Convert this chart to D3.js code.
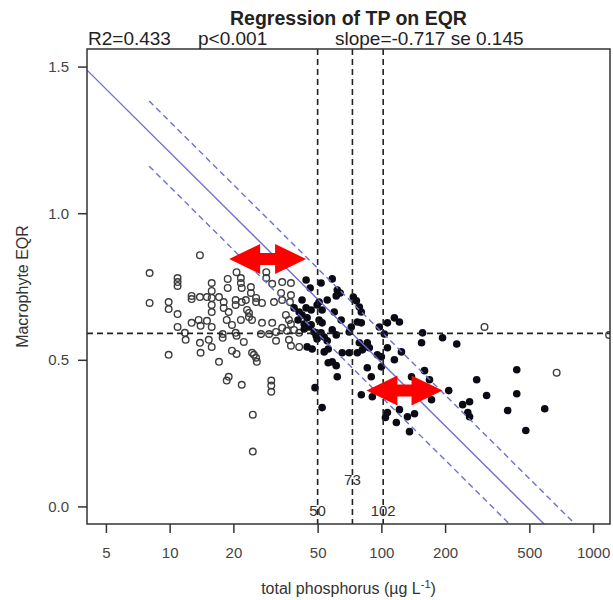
<!DOCTYPE html>
<html>
<head>
<meta charset="utf-8">
<script src="https://cdn.jsdelivr.net/npm/d3@7"></script>
<style>
  body { margin: 0; background: #fff; }
  svg { display: block; }
  text { font-family: "Liberation Sans", Arial, sans-serif; }
</style>
</head>
<body>
<svg id="chart" width="613" height="600"></svg>
<script>
// open circles (TP in ug/L, EQR)
const openTP = [
  13.9, 8.04, 10.9, 10.9, 10.9, 20.7, 18.8, 15.8, 8.04, 9.89,
  9.89, 10.9, 12.7, 12.7, 13.9, 15.0, 15.8, 15.8, 15.8, 15.8,
  17.1, 18.0, 18.0, 18.8, 19.0, 20.5, 12.7, 13.7, 14.0, 15.0,
  15.8, 10.9, 11.8, 11.9, 18.6, 19.7, 17.8, 17.8, 20.5, 13.9,
  15.3, 15.8, 9.89, 19.7, 21.7, 21.7, 21.9, 24.2, 24.2, 21.9,
  23.2, 25.6, 25.6, 27.3, 23.7, 27.3, 28.6, 28.6, 30.5, 34.0,
  37.4, 33.6, 34.0, 37.4, 31.1, 20.5, 22.9, 23.7, 21.7, 24.5,
  30.5, 35.4, 36.6, 37.4, 34.0, 35.8, 38.7, 40.9, 31.8, 29.5,
  20.7, 22.4, 27.0, 31.8, 36.6, 37.4, 40.9, 20.7, 24.5, 25.0,
  25.6, 25.8, 17.1, 19.0, 30.2, 30.2, 30.2, 18.6, 21.9, 24.7,
  24.7, 14.0, 37.0, 307, 673, 1190
];
const openEQR = [
  0.857, 0.796, 0.779, 0.765, 0.752, 0.799, 0.776, 0.762, 0.694, 0.697,
  0.673, 0.656, 0.718, 0.707, 0.714, 0.714, 0.735, 0.711, 0.687, 0.663,
  0.714, 0.697, 0.677, 0.745, 0.663, 0.704, 0.626, 0.636, 0.616, 0.633,
  0.612, 0.612, 0.592, 0.568, 0.636, 0.619, 0.588, 0.575, 0.592, 0.558,
  0.568, 0.544, 0.517, 0.531, 0.779, 0.762, 0.745, 0.748, 0.728, 0.697,
  0.670, 0.711, 0.697, 0.694, 0.646, 0.626, 0.799, 0.779, 0.759, 0.765,
  0.762, 0.728, 0.704, 0.721, 0.697, 0.687, 0.704, 0.660, 0.636, 0.636,
  0.626, 0.653, 0.636, 0.622, 0.609, 0.599, 0.602, 0.592, 0.595, 0.588,
  0.582, 0.561, 0.588, 0.565, 0.568, 0.548, 0.544, 0.520, 0.524, 0.517,
  0.507, 0.493, 0.493, 0.442, 0.429, 0.412, 0.391, 0.429, 0.415, 0.313,
  0.187, 0.524, 0.697, 0.612, 0.456, 0.585
];

// filled circles
const fillTP = [
  44.1, 46.1, 51.9, 58.6, 61.9, 63.9, 61.2, 42.2, 44.1, 50.8,
  55.5, 73.7, 76.2, 78.7, 80.4, 59.9, 64.6, 77.0, 80.4, 50.8,
  52.5, 42.2, 40.4, 43.2, 45.6, 48.1, 51.9, 53.7, 49.7, 55.5,
  58.6, 61.2, 70.5, 72.1, 106.8, 115.2, 121.7, 97.8, 103.3, 78.7,
  83.1, 85.8, 81.3, 87.7, 106.8, 95.7, 100, 124.4, 65.3, 70.5,
  77.0, 44.6, 47.1, 53.7, 56.1, 58.6, 61.2, 61.9, 85.8, 89.6,
  100, 115.2, 48.6, 80.4, 90.6, 52.5, 106.8, 104.5, 121.7, 132.8,
  117.7, 135.8, 143.4, 156.5, 154.8, 194.5, 227, 159.9, 168.8, 208,
  172.5, 282, 436, 314, 436, 242, 261, 256, 261, 395,
  591, 481, 138.8, 56.1, 49.7, 52.5, 46.6, 38.7, 40.9, 44.6,
  46.6, 43.2, 49.2
];
const fillEQR = [
  0.772, 0.745, 0.762, 0.776, 0.738, 0.728, 0.718, 0.704, 0.677, 0.697,
  0.704, 0.714, 0.701, 0.680, 0.663, 0.663, 0.636, 0.629, 0.626, 0.636,
  0.626, 0.653, 0.636, 0.622, 0.612, 0.595, 0.592, 0.578, 0.571, 0.565,
  0.602, 0.585, 0.595, 0.612, 0.626, 0.643, 0.629, 0.612, 0.588, 0.558,
  0.544, 0.558, 0.534, 0.541, 0.541, 0.517, 0.510, 0.527, 0.524, 0.524,
  0.524, 0.544, 0.537, 0.527, 0.537, 0.493, 0.480, 0.442, 0.473, 0.442,
  0.476, 0.500, 0.405, 0.381, 0.374, 0.337, 0.320, 0.303, 0.330, 0.306,
  0.286, 0.255, 0.316, 0.592, 0.558, 0.575, 0.554, 0.463, 0.432, 0.395,
  0.364, 0.432, 0.466, 0.378, 0.384, 0.347, 0.357, 0.320, 0.306, 0.327,
  0.333, 0.259, 0.442, 0.490, 0.687, 0.670, 0.670, 0.677, 0.663, 0.643,
  0.619, 0.605, 0.582
];

const xTicks = [5, 10, 20, 50, 100, 200, 500, 1000];
const yTicks = [0.0, 0.5, 1.0, 1.5];

// regression EQR = a + b*log10(TP), and the two parallel limit lines
const fitA = 1.925, fitB = -0.717;
const bandA = [2.030, 1.808];
const bandStartTP = 8;

// threshold lines
const cutTP = [50, 73, 102];
const cutEQR = 0.59;

// red double arrows
const arrowFrom = [19.1, 85];
const arrowTo = [44.1, 194.5];
const arrowEQR = [0.844, 0.395];

const pL = 87, pR = 610, pT = 49, pB = 524;

const svg = d3.select("#chart");

const x = d3.scaleLog().domain([4.07, 1202]).range([pL, pR]);
const y = d3.scaleLinear().domain([-0.06, 1.56]).range([pB, pT]);

svg.append("defs").append("clipPath").attr("id", "plotclip")
  .append("rect")
  .attr("x", pL).attr("y", pT)
  .attr("width", pR - pL).attr("height", pB - pT);

const plot = svg.append("g").attr("clip-path", "url(#plotclip)");

// points
plot.selectAll(".open")
  .data(openTP.map((d, i) => [d, openEQR[i]]))
  .enter().append("circle")
  .attr("class", "open")
  .attr("cx", d => x(d[0]))
  .attr("cy", d => y(d[1]))
  .attr("r", 3.3)
  .attr("fill", "none")
  .attr("stroke", "#3c3c3c")
  .attr("stroke-width", 1.4);

plot.selectAll(".filled")
  .data(fillTP.map((d, i) => [d, fillEQR[i]]))
  .enter().append("circle")
  .attr("class", "filled")
  .attr("cx", d => x(d[0]))
  .attr("cy", d => y(d[1]))
  .attr("r", 3.8)
  .attr("fill", "#0b0b16");

// regression and limit lines
const lineOf = (a, from, to) => d3.line()
  .x(d => x(d))
  .y(d => y(a + fitB * Math.log10(d)))([from, to]);

plot.append("path")
  .attr("d", lineOf(fitA, 4.07, 1202))
  .attr("fill", "none")
  .attr("stroke", "#6f6fd0")
  .attr("stroke-width", 1.4);

bandA.forEach(a => {
  plot.append("path")
    .attr("d", lineOf(a, bandStartTP, 1202))
    .attr("fill", "none")
    .attr("stroke", "#6f6fd0")
    .attr("stroke-width", 1.4)
    .attr("stroke-dasharray", "6,4");
});

// black dashed thresholds
cutTP.forEach(t => {
  plot.append("line")
    .attr("x1", x(t)).attr("x2", x(t))
    .attr("y1", pT).attr("y2", pB)
    .attr("stroke", "#222")
    .attr("stroke-width", 1.6)
    .attr("stroke-dasharray", "6,4");
});
plot.append("line")
  .attr("x1", pL).attr("x2", pR)
  .attr("y1", y(cutEQR)).attr("y2", y(cutEQR))
  .attr("stroke", "#222")
  .attr("stroke-width", 1.6)
  .attr("stroke-dasharray", "6,4");

// threshold labels
cutTP.forEach((t, i) => {
  svg.append("text")
    .attr("x", x(t))
    .attr("y", i === 1 ? 485 : 516)
    .attr("text-anchor", "middle")
    .attr("font-size", 15)
    .attr("fill", "#333")
    .text(t);
});

// arrows
const headL = 31, headH = 15, shaftH = 6;
arrowFrom.forEach((f, i) => {
  const x1 = x(f), x2 = x(arrowTo[i]), yc = y(arrowEQR[i]);
  const p = d3.path();
  p.moveTo(x1, yc);
  p.lineTo(x1 + headL, yc - headH);
  p.lineTo(x1 + headL, yc - shaftH);
  p.lineTo(x2 - headL, yc - shaftH);
  p.lineTo(x2 - headL, yc - headH);
  p.lineTo(x2, yc);
  p.lineTo(x2 - headL, yc + headH);
  p.lineTo(x2 - headL, yc + shaftH);
  p.lineTo(x1 + headL, yc + shaftH);
  p.lineTo(x1 + headL, yc + headH);
  p.closePath();
  svg.append("path").attr("d", p.toString()).attr("fill", "#ff0000");
});

// axes
const xAxis = svg.append("g")
  .attr("transform", "translate(0," + pB + ")")
  .call(d3.axisBottom(x).tickValues(xTicks).tickFormat(d3.format("d"))
    .tickSize(9).tickPadding(14));
const yAxis = svg.append("g")
  .attr("transform", "translate(" + pL + ",0)")
  .call(d3.axisLeft(y).tickValues(yTicks).tickFormat(d3.format(".1f"))
    .tickSize(9).tickPadding(9));

[xAxis, yAxis].forEach(g => {
  g.select(".domain").remove();
  g.selectAll(".tick line").attr("stroke", "#333").attr("stroke-width", 1.5);
  g.selectAll(".tick text")
    .attr("font-size", 15)
    .attr("font-family", "Liberation Sans, Arial, sans-serif")
    .attr("fill", "#444");
});

// plot box
svg.append("rect")
  .attr("x", pL).attr("y", pT)
  .attr("width", pR - pL).attr("height", pB - pT)
  .attr("fill", "none")
  .attr("stroke", "#333")
  .attr("stroke-width", 1.5);

// titles
svg.append("text")
  .attr("x", (pL + pR) / 2).attr("y", 25)
  .attr("text-anchor", "middle")
  .attr("font-size", 19.5)
  .attr("font-weight", "bold")
  .attr("fill", "#222")
  .text("Regression of TP on EQR");

svg.append("text").attr("x", 88).attr("y", 45)
  .attr("font-size", 19).attr("fill", "#222").text("R2=0.433");
svg.append("text").attr("x", 198).attr("y", 45)
  .attr("font-size", 19).attr("fill", "#222").text("p<0.001");
svg.append("text").attr("x", 335).attr("y", 45)
  .attr("font-size", 19).attr("fill", "#222").text("slope=-0.717 se 0.145");

const xl = svg.append("text")
  .attr("x", (pL + pR) / 2).attr("y", 594)
  .attr("text-anchor", "middle")
  .attr("font-size", 16)
  .attr("fill", "#333");
xl.append("tspan").text("total phosphorus (µg L");
xl.append("tspan").attr("dy", -6).attr("font-size", 11).text("-1");
xl.append("tspan").attr("dy", 6).text(")");

svg.append("text")
  .attr("transform", "translate(28," + ((pT + pB) / 2) + ") rotate(-90)")
  .attr("text-anchor", "middle")
  .attr("font-size", 16)
  .attr("fill", "#333")
  .text("Macrophyte EQR");
</script>
</body>
</html>
